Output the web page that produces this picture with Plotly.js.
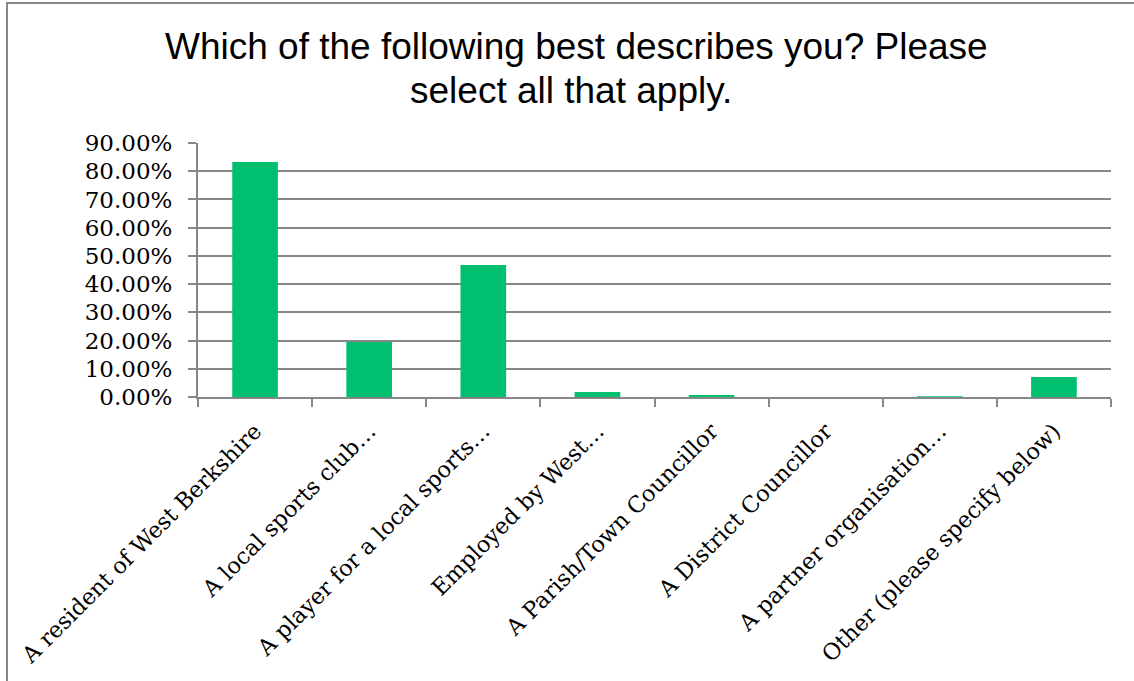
<!DOCTYPE html>
<html><head><meta charset="utf-8">
<script src="https://cdn.plot.ly/plotly-3.0.1.min.js"></script>
<style>html,body{margin:0;padding:0;background:#fff}#chart{width:1134px;height:681px}</style>
</head><body><div id="chart"></div>
<script>
const categories = [
  "A resident of West Berkshire",
  "A local sports club\u2026",
  "A player for a local sports\u2026",
  "Employed by West\u2026",
  "A Parish/Town Councillor",
  "A District Councillor",
  "A partner organisation\u2026",
  "Other (please specify below)"
];
const values = [0.833, 0.195, 0.468, 0.018, 0.007, 0.0, 0.003, 0.071];
const yTicks = [0, 0.1, 0.2, 0.3, 0.4, 0.5, 0.6, 0.7, 0.8, 0.9];
const yTickText = ["0.00%","10.00%","20.00%","30.00%","40.00%","50.00%","60.00%","70.00%","80.00%","90.00%"];
const titleLines = ["Which of the following best describes you? Please", "select all that apply."];

const L=198, R=23, T=143, B=284, W=1134, H=681;
const pw = W-L-R, ph = H-T-B;
const px = x => (x-L)/pw, py = y => (H-B-y)/ph;

const trace = {
  type: 'bar', x: categories, y: values,
  marker: {color: '#00BF6F'}, hoverinfo: 'skip'
};
const titleFont = {family: 'Liberation Sans, Arial, sans-serif', size: 37, color: '#000'};
const layout = {
  width: W, height: H,
  margin: {l: L, r: R, t: T, b: B, pad: 0},
  paper_bgcolor: '#fff', plot_bgcolor: '#fff',
  showlegend: false, bargap: 0.6,
  annotations: [
    {text: titleLines[0], xref: 'paper', yref: 'paper', x: px(576), y: py(46), xanchor: 'center', yanchor: 'middle', showarrow: false, font: titleFont},
    {text: titleLines[1], xref: 'paper', yref: 'paper', x: px(571), y: py(91), xanchor: 'center', yanchor: 'middle', showarrow: false, font: titleFont}
  ],
  xaxis: {
    type: 'category', tickangle: -45, tickson: 'boundaries',
    ticks: 'outside', ticklen: 8, tickcolor: '#878787', tickwidth: 2,
    showline: true, linecolor: '#878787', linewidth: 2, showgrid: false,
    tickfont: {family: 'DejaVu Serif, serif', size: 22.5, color: '#000'},
    ticklabelstandoff: 10
  },
  yaxis: {
    range: [0, 0.9], tickvals: yTicks, ticktext: yTickText,
    ticks: 'outside', ticklen: 8, tickcolor: '#878787', tickwidth: 2,
    showline: true, linecolor: '#878787', linewidth: 2,
    showgrid: true, gridcolor: '#878787', gridwidth: 2, zeroline: false,
    tickfont: {family: 'DejaVu Serif, serif', size: 23, color: '#000'},
    ticklabelstandoff: 11
  },
  shapes: [{
    type: 'path', xref: 'paper', yref: 'paper',
    path: `M ${px(7)} ${py(690)} L ${px(7)} ${py(3)} L ${px(1140)} ${py(3)}`,
    line: {color: '#878787', width: 2}
  }]
};
Plotly.newPlot('chart', [trace], layout, {displayModeBar: false, staticPlot: true});
</script></body></html>
